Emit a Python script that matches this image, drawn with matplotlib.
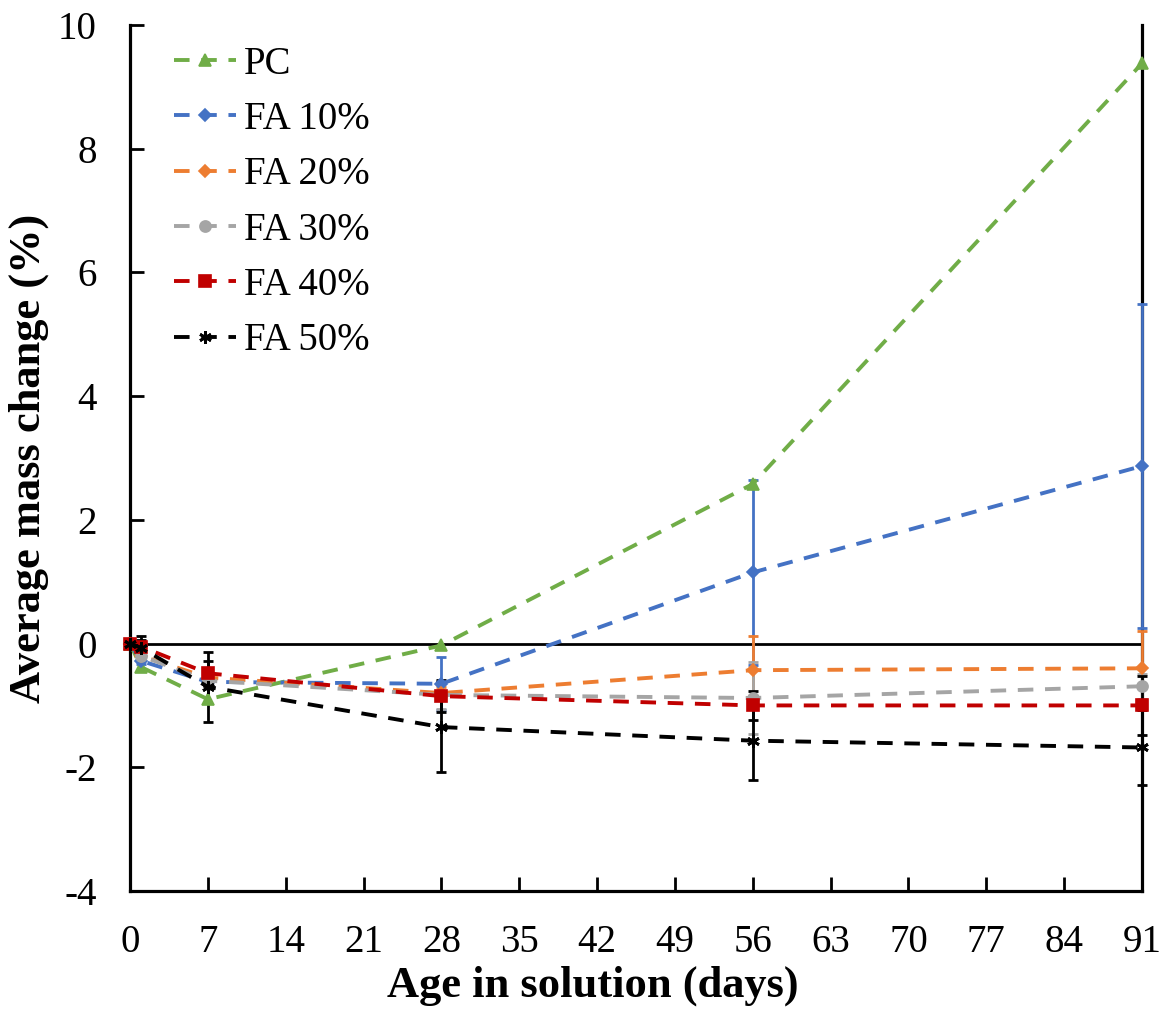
import matplotlib
matplotlib.use("Agg")
import matplotlib.pyplot as plt
import numpy as np

plt.rcParams['font.family'] = ['Liberation Serif', 'DejaVu Serif']
plt.rcParams['axes.unicode_minus'] = False

# data
days = [0, 1, 7, 28, 56, 91]

pc = [0, -0.38, -0.90, -0.03, 2.58, 9.38]

fa10 = [0, -0.28, -0.62, -0.65, 1.15, 2.87]
fa10_err = [0, 0.05, 0.05, 0.43, 1.50, 2.62]

fa20 = [0, -0.20, -0.55, -0.80, -0.43, -0.40]
fa20_err = [0, 0.05, 0.08, 0.10, 0.56, 0.60]

fa30 = [0, -0.20, -0.60, -0.83, -0.88, -0.69]
fa30_err = [0, 0.05, 0.08, 0.22, 0.58, 0.20]

fa40 = [0, -0.05, -0.48, -0.85, -1.00, -1.00]
fa40_err = [0, 0.10, 0.20, 0.26, 0.24, 0.48]

fa50 = [0, -0.07, -0.70, -1.35, -1.57, -1.68]
fa50_err = [0, 0.20, 0.56, 0.73, 0.63, 0.61]

star = (6, 2, 0)
series = [
    ("PC", pc, None, "#70AD47", "^", 8, None),
    ("FA 10%", fa10, fa10_err, "#4472C4", "D", 6.5, "#4472C4"),
    ("FA 20%", fa20, fa20_err, "#ED7D31", "D", 6.5, "#ED7D31"),
    ("FA 30%", fa30, fa30_err, "#A5A5A5", "o", 8, "#A5A5A5"),
    ("FA 40%", fa40, fa40_err, "#C00000", "s", 8, "black"),
    ("FA 50%", fa50, fa50_err, "black", star, 9, "black"),
]

fig = plt.figure(figsize=(11.67, 10.10), dpi=100)
ax = fig.add_axes([130 / 1167, 1 - 891 / 1010, (1142 - 130) / 1167, (891 - 25) / 1010])

ax.axhline(0, color="black", lw=2, zorder=1)

for name, vals, err, col, mk, ms, ecol in series:
    ax.plot(days, vals, linestyle=(0, (4, 3)), lw=2.8, color=col,
            marker=mk, markersize=ms, markeredgewidth=1.2 if mk != star else 2,
            markeredgecolor=col, label=name, zorder=3, clip_on=False)
    if err is not None:
        ax.errorbar(days, vals, yerr=err, fmt="none", ecolor=ecol, elinewidth=2,
                    capsize=3.8, capthick=2, zorder=2, clip_on=False)

ax.set_xlim(0, 91)
ax.set_ylim(-4, 10)
ax.set_xticks(np.arange(0, 92, 7))
ax.set_yticks(np.arange(-4, 11, 2))

ax.spines['top'].set_visible(False)
for s in ['left', 'bottom', 'right']:
    ax.spines[s].set_linewidth(2.3)
    ax.spines[s].set_color("black")
ax.spines['right'].set_zorder(1)
ax.tick_params(direction="in", length=10, width=2, labelsize=28)
ax.tick_params(axis="x", pad=24)
ax.tick_params(axis="y", pad=24)
ax.tick_params(right=False)

ax.set_xlabel("Age in solution (days)", fontsize=32, fontweight="bold")
ax.xaxis.set_label_coords(0.4575, -0.086, transform=ax.transAxes)
ax.set_ylabel("Average mass change (%)", fontsize=32, fontweight="bold", labelpad=6)

leg = ax.legend(loc="upper left", bbox_to_anchor=(0.043, 0.976), frameon=False,
                fontsize=28, handlelength=1.6, handletextpad=0.2, labelspacing=0.47,
                borderaxespad=0.0, borderpad=0.0)

fig.savefig("out.png", dpi=100)
